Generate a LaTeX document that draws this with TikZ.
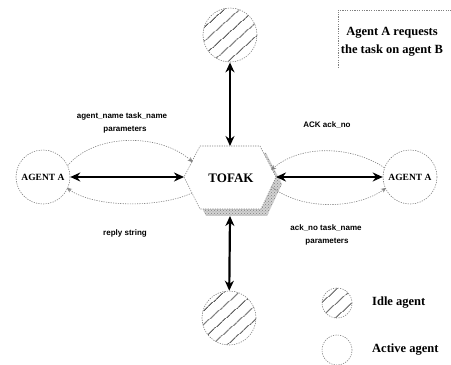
\documentclass[tikz,border=0pt]{standalone}
\usepackage{fontspec}
\setmainfont{Liberation Serif}
\newfontfamily\labelsans{Liberation Sans}
\usetikzlibrary{arrows.meta,patterns,patterns.meta,calc}
\begin{document}
\begin{tikzpicture}[x=1pt,y=1pt,
  dotline/.style={draw=gray,dash pattern=on 1.2pt off 1.2pt,line width=0.6pt},
  agent/.style={circle,dotline,minimum size=54pt,inner sep=0pt,
    font=\fontsize{9.5}{11}\selectfont\bfseries},
  idle/.style={agent,pattern={Lines[angle=42,distance=10.5pt,line width=0.8pt]}},
  bigarrow/.style={line width=2.2pt,{Stealth[length=10pt,width=9pt]}-{Stealth[length=10pt,width=9pt]}},
  flow/.style={dotline,-{Stealth[length=5pt,width=4.5pt]},shorten >=-1pt},
  msg/.style={font=\labelsans\fontsize{8}{12}\selectfont\bfseries,align=center,inner sep=0pt},
  legend/.style={font=\fontsize{12.5}{18}\selectfont\bfseries,inner sep=0pt}
]
\useasboundingbox (0,0) rectangle (451,365);

% central task broker: shadowed hexagon
\def\hexpath{(200,219) -- (260,219) -- (276,188) -- (261,156) -- (200,156) -- (184,188) -- cycle}
\fill[gray!35,shift={(6,-7)}] \hexpath;
\fill[pattern=crosshatch dots,pattern color=gray,shift={(6,-7)}] \hexpath;
\filldraw[fill=white,dotline] \hexpath;
\coordinate (h1) at (200,219);
\coordinate (h2) at (260,219);
\coordinate (h3) at (276,188);
\coordinate (h4) at (261,156);
\coordinate (h5) at (200,156);
\coordinate (h6) at (184,188);
\coordinate (htop) at (230,219);
\coordinate (hbot) at (230,149);
\node[font=\fontsize{13}{15}\selectfont\bfseries] (tofak) at (231,187) {TOFAK};

% agents
\node[agent] (agentL) at (43,188) {AGENT A};
\node[agent] (agentR) at (410,188) {AGENT A};
\node[idle] (idleT) at (230,330) {};
\node[idle] (idleB) at (229,47) {};

% main links
\draw[bigarrow] (agentL) -- (h6);
\draw[bigarrow] (h3) -- (agentR);
\draw[bigarrow] (idleT) -- (htop);
\draw[bigarrow] (hbot) -- (idleB);

% message loops
\coordinate (lin) at ($(h6)!0.5!(h1)$);
\coordinate (lout) at ($(h5)!0.5!(h6)$);
\coordinate (rin) at ($(h2)!0.75!(h3)$);
\coordinate (rout) at ($(h3)!0.3!(h4)$);
\draw[flow] (agentL.25) .. controls (95,232) and (160,232) .. (lin);
\draw[flow] (lout) .. controls (160,157) and (95,157) .. (agentL.-25);
\draw[flow] (agentR.160) .. controls (350,220) and (300,220) .. (rin);
\draw[flow] (rout) .. controls (300,155) and (355,155) .. (agentR.205);

% message labels
\node[msg] (m1) at (122,249) {agent\_name task\_name};
\node[msg] (m2) at (125,235) {parameters};
\node[msg] (m3) at (125,132) {reply string};
\node[msg] (m4) at (327,240) {ACK ack\_no};
\node[msg] (m5) at (326,137) {ack\_no task\_name};
\node[msg] (m6) at (327,123) {parameters};

% caption box
\node[legend,align=center] (note) at (392,323) {Agent A requests\\the task on agent B};
\coordinate (boxbl) at (338,297);
\coordinate (boxtl) at (338,355);
\coordinate (boxtr) at (452,355);
\draw[dotline] (boxbl) -- (boxtl) -- (boxtr);

% legend
\node[idle,minimum size=30pt] (legidle) at (337,62) {};
\node[agent,minimum size=30pt] (legactive) at (337,15) {};
\node[legend,anchor=west] (lidle) at (372,62) {Idle agent};
\node[legend,anchor=west] (lactive) at (372,15) {Active agent};
\end{tikzpicture}
\end{document}
